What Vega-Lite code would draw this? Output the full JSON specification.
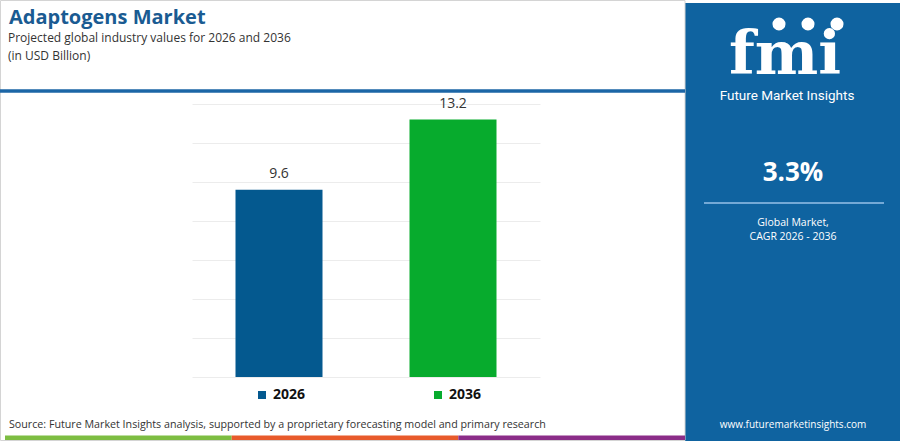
{
  "$schema": "https://vega.github.io/schema/vega-lite/v6.json",
  "width": 900,
  "height": 441,
  "autosize": "none",
  "padding": 0,
  "background": "#ffffff",
  "config": {"view": {"stroke": null}, "font": "Open Sans"},
  "resolve": {"scale": {"x": "independent", "y": "independent", "color": "independent"}},
  "layer": [
    {
      "data": {"values": [{"part": "panel"}]},
      "mark": {"type": "rect", "color": "#0f63a0"},
      "encoding": {
        "x": {"datum": 685, "type": "quantitative", "scale": {"domain": [0, 900], "range": [0, 900], "nice": false}, "axis": null},
        "x2": {"datum": 900},
        "y": {"datum": 3, "type": "quantitative", "scale": {"domain": [0, 441], "range": [0, 441], "nice": false}, "axis": null},
        "y2": {"datum": 441}
      }
    },
    {
      "data": {"values": [{"part": "frame"}]},
      "mark": {"type": "rect", "fill": null, "stroke": "#d4d4d4", "strokeWidth": 1},
      "encoding": {
        "x": {"datum": 0.5, "type": "quantitative", "scale": {"domain": [0, 900], "range": [0, 900], "nice": false}, "axis": null},
        "x2": {"datum": 685},
        "y": {"datum": 0.5, "type": "quantitative", "scale": {"domain": [0, 441], "range": [0, 441], "nice": false}, "axis": null},
        "y2": {"datum": 440.5}
      }
    },
    {
      "data": {"values": [{"seg": "a"}, {"seg": "b"}, {"seg": "c"}]},
      "mark": {"type": "rect"},
      "encoding": {
        "x": {"field": "seg", "type": "nominal", "scale": {"type": "band", "range": [5, 685], "paddingInner": 0, "paddingOuter": 0}, "axis": null},
        "y": {"datum": 435.5, "type": "quantitative", "scale": {"domain": [0, 441], "range": [0, 441], "nice": false}, "axis": null},
        "y2": {"datum": 440},
        "color": {"field": "seg", "type": "nominal", "scale": {"range": ["#7dbd42", "#e85a2b", "#8b2d88"]}, "legend": null}
      }
    },
    {
      "data": {"values": [{"part": "rule"}]},
      "mark": {"type": "rule", "color": "#1c66a6", "strokeWidth": 3.5},
      "encoding": {
        "x": {"datum": 0, "type": "quantitative", "scale": {"domain": [0, 900], "range": [0, 900], "nice": false}, "axis": null},
        "x2": {"datum": 685},
        "y": {"datum": 91, "type": "quantitative", "scale": {"domain": [0, 441], "range": [0, 441], "nice": false}, "axis": null}
      }
    },
    {
      "data": {"values": [{"year": "2026", "value": 9.6}, {"year": "2036", "value": 13.2}]},
      "encoding": {
        "x": {"field": "year", "type": "nominal", "scale": {"type": "band", "range": [192, 540], "paddingInner": 0.5, "paddingOuter": 0.25}, "axis": null},
        "y": {"field": "value", "type": "quantitative", "scale": {"domain": [0, 14], "range": [377, 104], "nice": false}, "axis": {"values": [0, 2, 4, 6, 8, 10, 12, 14], "grid": true, "gridColor": "#ececec", "gridWidth": 1, "labels": false, "ticks": false, "domain": false, "title": null}}
      },
      "layer": [
        {
          "mark": {"type": "bar"},
          "encoding": {
            "color": {"field": "year", "type": "nominal", "scale": {"domain": ["2026", "2036"], "range": ["#04598f", "#07ab2d"]},
              "legend": {"orient": "none", "legendX": 255, "legendY": 388, "direction": "horizontal", "title": null, "symbolType": "square", "symbolSize": 64, "symbolStrokeWidth": 0, "labelFont": "Open Sans", "labelFontSize": 14, "labelFontWeight": "bold", "labelColor": "#111111", "labelOffset": 4, "columnPadding": 125}}
          }
        },
        {
          "mark": {"type": "text", "dy": -9, "baseline": "bottom", "fontSize": 14, "color": "#333333", "font": "Open Sans"},
          "encoding": {"text": {"field": "value", "type": "quantitative", "format": ".1f"}}
        }
      ]
    },
    {
      "data": {"values": [{"t": "Adaptogens Market"}]},
      "mark": {"type": "text", "align": "left", "baseline": "alphabetic", "fontSize": 20, "fontWeight": "bold", "color": "#1a5b92", "font": "Open Sans"},
      "encoding": {
        "x": {"datum": 9, "type": "quantitative", "scale": {"domain": [0, 900], "range": [0, 900], "nice": false}, "axis": null},
        "y": {"datum": 24, "type": "quantitative", "scale": {"domain": [0, 441], "range": [0, 441], "nice": false}, "axis": null},
        "text": {"field": "t"}
      }
    },
    {
      "data": {"values": [{"t": "Projected global industry values for 2026 and 2036"}]},
      "mark": {"type": "text", "align": "left", "baseline": "alphabetic", "fontSize": 12, "color": "#333333", "font": "Open Sans"},
      "encoding": {
        "x": {"datum": 8, "type": "quantitative", "scale": {"domain": [0, 900], "range": [0, 900], "nice": false}, "axis": null},
        "y": {"datum": 42, "type": "quantitative", "scale": {"domain": [0, 441], "range": [0, 441], "nice": false}, "axis": null},
        "text": {"field": "t"}
      }
    },
    {
      "data": {"values": [{"t": "(in USD Billion)"}]},
      "mark": {"type": "text", "align": "left", "baseline": "alphabetic", "fontSize": 12, "color": "#333333", "font": "Open Sans"},
      "encoding": {
        "x": {"datum": 8, "type": "quantitative", "scale": {"domain": [0, 900], "range": [0, 900], "nice": false}, "axis": null},
        "y": {"datum": 60, "type": "quantitative", "scale": {"domain": [0, 441], "range": [0, 441], "nice": false}, "axis": null},
        "text": {"field": "t"}
      }
    },
    {
      "data": {"values": [{"t": "Source: Future Market Insights analysis, supported by a proprietary forecasting model and primary research"}]},
      "mark": {"type": "text", "align": "left", "baseline": "alphabetic", "fontSize": 10.7, "color": "#333333", "font": "Open Sans"},
      "encoding": {
        "x": {"datum": 9, "type": "quantitative", "scale": {"domain": [0, 900], "range": [0, 900], "nice": false}, "axis": null},
        "y": {"datum": 428, "type": "quantitative", "scale": {"domain": [0, 441], "range": [0, 441], "nice": false}, "axis": null},
        "text": {"field": "t"}
      }
    },
    {
      "data": {"values": [{"t": "fmi"}]},
      "mark": {"type": "text", "align": "center", "baseline": "alphabetic", "fontSize": 60, "fontWeight": "bold", "color": "#ffffff", "font": "DejaVu Serif"},
      "encoding": {
        "x": {"datum": 785, "type": "quantitative", "scale": {"domain": [0, 900], "range": [0, 900], "nice": false}, "axis": null},
        "y": {"datum": 74, "type": "quantitative", "scale": {"domain": [0, 441], "range": [0, 441], "nice": false}, "axis": null},
        "text": {"field": "t"}
      }
    },
    {
      "data": {"values": [{"globe": "Americas"}, {"globe": "Europe"}, {"globe": "Asia"}]},
      "mark": {"type": "circle", "color": "#ffffff", "opacity": 1, "size": 170},
      "encoding": {
        "x": {"field": "globe", "type": "nominal", "sort": null, "scale": {"type": "point", "range": [779, 837], "padding": 0}, "axis": null},
        "y": {"datum": 24, "type": "quantitative", "scale": {"domain": [0, 441], "range": [0, 441], "nice": false}, "axis": null}
      }
    },
    {
      "data": {"values": [{"t": "Future Market Insights"}]},
      "mark": {"type": "text", "align": "center", "baseline": "alphabetic", "fontSize": 13.5, "color": "#ffffff", "font": "Roboto"},
      "encoding": {
        "x": {"datum": 787, "type": "quantitative", "scale": {"domain": [0, 900], "range": [0, 900], "nice": false}, "axis": null},
        "y": {"datum": 100, "type": "quantitative", "scale": {"domain": [0, 441], "range": [0, 441], "nice": false}, "axis": null},
        "text": {"field": "t"}
      }
    },
    {
      "data": {"values": [{"t": "3.3%"}]},
      "mark": {"type": "text", "align": "center", "baseline": "alphabetic", "fontSize": 26, "fontWeight": "bold", "color": "#ffffff", "font": "Open Sans"},
      "encoding": {
        "x": {"datum": 793, "type": "quantitative", "scale": {"domain": [0, 900], "range": [0, 900], "nice": false}, "axis": null},
        "y": {"datum": 181, "type": "quantitative", "scale": {"domain": [0, 441], "range": [0, 441], "nice": false}, "axis": null},
        "text": {"field": "t"}
      }
    },
    {
      "data": {"values": [{"part": "divider"}]},
      "mark": {"type": "rule", "color": "#74a9d6", "strokeWidth": 2},
      "encoding": {
        "x": {"datum": 704, "type": "quantitative", "scale": {"domain": [0, 900], "range": [0, 900], "nice": false}, "axis": null},
        "x2": {"datum": 884},
        "y": {"datum": 203, "type": "quantitative", "scale": {"domain": [0, 441], "range": [0, 441], "nice": false}, "axis": null}
      }
    },
    {
      "data": {"values": [{"t": "Global Market,"}]},
      "mark": {"type": "text", "align": "center", "baseline": "alphabetic", "fontSize": 10.5, "color": "#ffffff", "font": "Open Sans"},
      "encoding": {
        "x": {"datum": 793, "type": "quantitative", "scale": {"domain": [0, 900], "range": [0, 900], "nice": false}, "axis": null},
        "y": {"datum": 226, "type": "quantitative", "scale": {"domain": [0, 441], "range": [0, 441], "nice": false}, "axis": null},
        "text": {"field": "t"}
      }
    },
    {
      "data": {"values": [{"t": "CAGR 2026 - 2036"}]},
      "mark": {"type": "text", "align": "center", "baseline": "alphabetic", "fontSize": 10.5, "color": "#ffffff", "font": "Open Sans"},
      "encoding": {
        "x": {"datum": 793, "type": "quantitative", "scale": {"domain": [0, 900], "range": [0, 900], "nice": false}, "axis": null},
        "y": {"datum": 240, "type": "quantitative", "scale": {"domain": [0, 441], "range": [0, 441], "nice": false}, "axis": null},
        "text": {"field": "t"}
      }
    },
    {
      "data": {"values": [{"t": "www.futuremarketinsights.com"}]},
      "mark": {"type": "text", "align": "center", "baseline": "alphabetic", "fontSize": 10, "color": "#ffffff", "font": "Open Sans"},
      "encoding": {
        "x": {"datum": 793, "type": "quantitative", "scale": {"domain": [0, 900], "range": [0, 900], "nice": false}, "axis": null},
        "y": {"datum": 428, "type": "quantitative", "scale": {"domain": [0, 441], "range": [0, 441], "nice": false}, "axis": null},
        "text": {"field": "t"}
      }
    }
  ]
}
